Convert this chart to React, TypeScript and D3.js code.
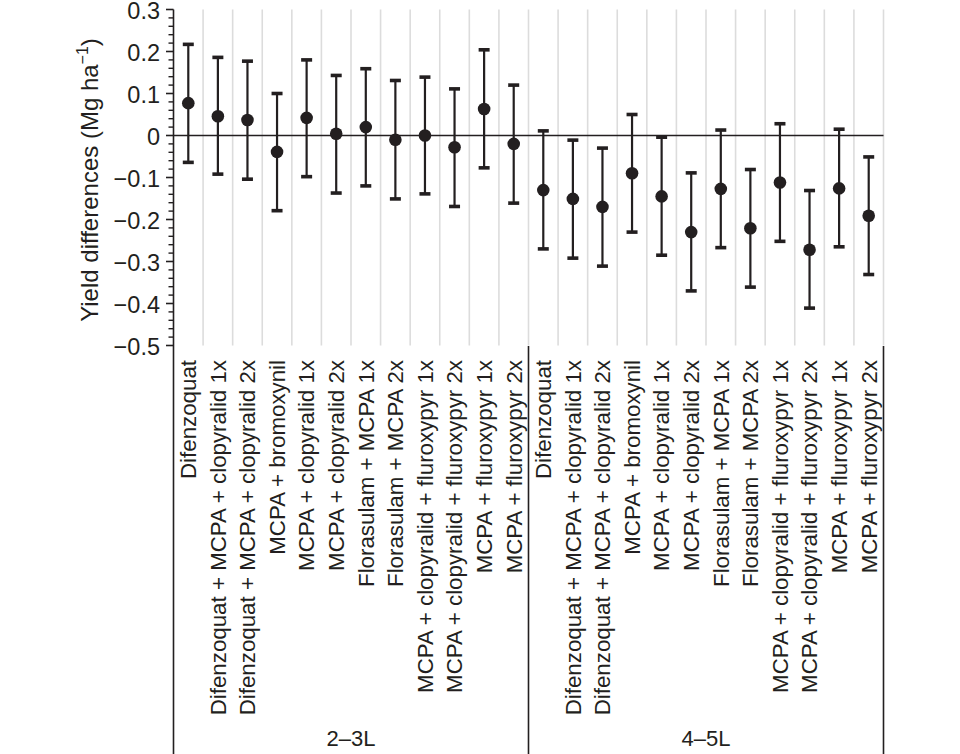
import React from "react";
import * as d3 from "d3";

const categories = [
  "Difenzoquat",
  "Difenzoquat + MCPA + clopyralid 1x",
  "Difenzoquat + MCPA + clopyralid 2x",
  "MCPA + bromoxynil",
  "MCPA + clopyralid 1x",
  "MCPA + clopyralid 2x",
  "Florasulam + MCPA 1x",
  "Florasulam + MCPA 2x",
  "MCPA + clopyralid + fluroxypyr 1x",
  "MCPA + clopyralid + fluroxypyr 2x",
  "MCPA + fluroxypyr 1x",
  "MCPA + fluroxypyr 2x",
];

const groups = ["2–3L", "4–5L"];

const means23 = [0.077, 0.046, 0.037, -0.039, 0.042, 0.004, 0.02, -0.01, 0.0, -0.028, 0.063, -0.02];
const lower23 = [-0.064, -0.092, -0.104, -0.179, -0.098, -0.137, -0.12, -0.151, -0.139, -0.169, -0.077, -0.161];
const upper23 = [0.217, 0.186, 0.177, 0.1, 0.18, 0.143, 0.159, 0.131, 0.139, 0.111, 0.204, 0.12];

const means45 = [-0.13, -0.151, -0.17, -0.09, -0.145, -0.23, -0.127, -0.221, -0.112, -0.272, -0.126, -0.191];
const lower45 = [-0.27, -0.292, -0.311, -0.23, -0.285, -0.37, -0.267, -0.361, -0.252, -0.411, -0.265, -0.331];
const upper45 = [0.011, -0.011, -0.03, 0.05, -0.004, -0.089, 0.013, -0.081, 0.028, -0.131, 0.015, -0.051];

const yTicks = [0.3, 0.2, 0.1, 0, -0.1, -0.2, -0.3, -0.4, -0.5];

const W = 960;
const H = 754;
const INK = "#231f20";
const FONT = "'Liberation Sans', Arial, Helvetica, sans-serif";

export default function App() {
  const rows = [
    ...categories.map((c, i) => ({ key: `a${i}`, label: c, m: means23[i], lo: lower23[i], hi: upper23[i] })),
    ...categories.map((c, i) => ({ key: `b${i}`, label: c, m: means45[i], lo: lower45[i], hi: upper45[i] })),
  ];

  const x = d3
    .scaleBand<string>()
    .domain(rows.map((r) => r.key))
    .range([173.5, 883.5])
    .padding(0);
  const y = d3.scaleLinear().domain([-0.5, 0.3]).range([345.5, 9.5]);

  const step = x.step();
  const left = 173.5;
  const boundaries = d3.range(1, rows.length + 1).map((i) => left + i * step);
  const minorTicks = d3.range(-50, 31, 2).map((v) => v / 100).filter((v) => Math.round(v * 100) % 10 !== 0);

  const groupEdges = [0, 12, 24].map((i) => left + i * step);
  const fmt = (v: number) => (v < 0 ? "−" + Math.abs(v).toString() : v.toString());

  return (
    <svg
      width={W}
      height={H}
      style={{ position: "absolute", left: 0, top: 0, fontFamily: FONT }}
      xmlns="http://www.w3.org/2000/svg"
    >
      <rect x={0} y={0} width={W} height={H} fill="#ffffff" />

      {/* vertical gridlines */}
      {boundaries.map((bx, i) => (
        <line key={`g${i}`} x1={bx} x2={bx} y1={y(0.3)} y2={y(-0.5)} stroke="#dcdcdc" strokeWidth={1.6} />
      ))}

      {/* zero line */}
      <line x1={left} x2={left + rows.length * step} y1={y(0)} y2={y(0)} stroke={INK} strokeWidth={1.6} />

      {/* y axis */}
      <line x1={left} x2={left} y1={y(0.3)} y2={H} stroke={INK} strokeWidth={1.6} />
      {yTicks.map((t) => (
        <g key={`t${t}`}>
          <line x1={left - 7.5} x2={left} y1={y(t)} y2={y(t)} stroke={INK} strokeWidth={1.6} />
          <text x={160} y={y(t) + 1} dy="0.36em" textAnchor="end" fontSize={23.5} fill={INK}>
            {fmt(t)}
          </text>
        </g>
      ))}
      {minorTicks.map((t) => (
        <line key={`m${t}`} x1={left - 5} x2={left} y1={y(t)} y2={y(t)} stroke={INK} strokeWidth={1.4} />
      ))}

      {/* y axis title */}
      <text
        transform={`translate(97.5, ${180}) rotate(-90)`}
        textAnchor="middle"
        fontSize={24}
        fill={INK}
      >
        Yield differences (Mg ha
        <tspan fontSize={16} dy={-10}>−1</tspan>
        <tspan dy={10}>)</tspan>
      </text>

      {/* error bars and points */}
      {rows.map((r) => {
        const cx = (x(r.key) as number) + step / 2;
        return (
          <g key={r.key}>
            <line x1={cx} x2={cx} y1={y(r.hi)} y2={y(r.lo)} stroke={INK} strokeWidth={2.2} />
            <line x1={cx - 5.5} x2={cx + 5.5} y1={y(r.hi)} y2={y(r.hi)} stroke={INK} strokeWidth={3.6} />
            <line x1={cx - 5.5} x2={cx + 5.5} y1={y(r.lo)} y2={y(r.lo)} stroke={INK} strokeWidth={3.6} />
            <circle cx={cx} cy={y(r.m)} r={6.3} fill={INK} />
          </g>
        );
      })}

      {/* category labels */}
      {rows.map((r) => {
        const cx = (x(r.key) as number) + step / 2;
        return (
          <text
            key={`l${r.key}`}
            transform={`translate(${cx}, 360) rotate(-90)`}
            textAnchor="end"
            dy="0.35em"
            fontSize={22.3}
            fill={INK}
          >
            {r.label}
          </text>
        );
      })}

      {/* group brackets */}
      {groupEdges.slice(1).map((gx, i) => (
        <line key={`d${i}`} x1={gx} x2={gx} y1={346} y2={H} stroke={INK} strokeWidth={1.6} />
      ))}
      {groups.map((g, i) => (
        <text
          key={g}
          x={(groupEdges[i] + groupEdges[i + 1]) / 2}
          y={746}
          textAnchor="middle"
          fontSize={22}
          fill={INK}
        >
          {g}
        </text>
      ))}
    </svg>
  );
}
